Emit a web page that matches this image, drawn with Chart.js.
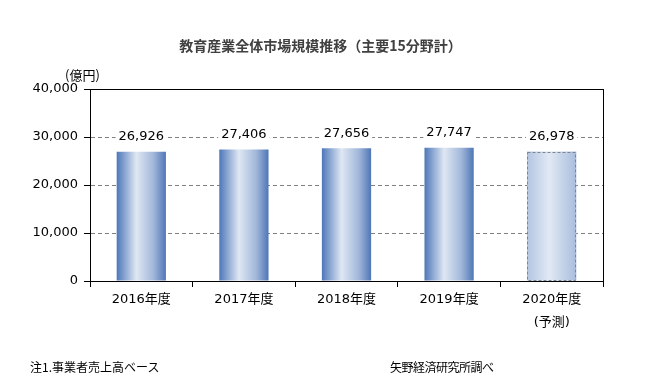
<!DOCTYPE html>
<html><head><meta charset="utf-8">
<script src="https://cdn.jsdelivr.net/npm/chart.js@4/dist/chart.umd.min.js"></script>
<style>
html,body{margin:0;padding:0;background:#fff;}
#wrap{position:relative;width:667px;height:381px;overflow:hidden;font-family:"DejaVu Sans","Noto Sans CJK JP",sans-serif;}
canvas{position:absolute;left:0;top:0;}
.t{position:absolute;white-space:nowrap;}
</style></head><body>
<div id="wrap">
<canvas id="c" width="667" height="381"></canvas>
<div class="t" id="title" style="left:0;width:641px;text-align:center;top:35px;font-size:14px;font-weight:bold;color:#404040;font-family:'Noto Sans CJK JP',sans-serif;">教育産業全体市場規模推移（主要15分野計）</div>
<div class="t" style="left:65px;top:65px;font-size:13px;color:#000;font-family:'Noto Sans CJK JP',sans-serif;">(億円)</div>
<div class="t" style="left:30px;top:358px;font-size:12px;color:#000;font-family:'Noto Sans CJK JP',sans-serif;">注1.事業者売上高ベース</div>
<div class="t" style="left:390px;top:358px;font-size:12px;color:#000;font-family:'Noto Sans CJK JP',sans-serif;letter-spacing:-0.5px;">矢野経済研究所調べ</div>
</div>
<script>
const categories = [["2016年度"], ["2017年度"], ["2018年度"], ["2019年度"], ["2020年度", "(予測)"]];
const marketSize = [26926, 27406, 27656, 27747, 26978];
const forecastIndex = [4];
const yTicks = [0, 10000, 20000, 30000, 40000];

const fmt = v => v.toLocaleString('en-US');

function barGradient(ctx) {
  const chart = ctx.chart;
  const xs = chart.scales.x;
  if (!xs || !chart.chartArea) return '#6f90c8';
  const i = ctx.dataIndex;
  const cx = xs.getPixelForValue(i);
  const w = (xs.width / categories.length) * 0.48;
  const g = chart.ctx.createLinearGradient(cx - w / 2, 0, cx + w / 2, 0);
  if (forecastIndex.includes(i)) {
    g.addColorStop(0, '#b3c5e1');
    g.addColorStop(0.45, '#e1e9f4');
    g.addColorStop(1, '#a8bddd');
  } else {
    g.addColorStop(0, '#4d77b9');
    g.addColorStop(0.4, '#dfe7f3');
    g.addColorStop(0.75, '#a1b7d9');
    g.addColorStop(1, '#4f76b7');
  }
  return g;
}

const overlay = {
  id: 'overlay',
  afterDatasetsDraw(chart) {
    const c = chart.ctx, a = chart.chartArea;
    const meta = chart.getDatasetMeta(0);
    c.save();
    forecastIndex.forEach(i => {
      const el = meta.data[i];
      const w = el.width;
      c.setLineDash([3, 2]);
      c.strokeStyle = '#7a8696';
      c.lineWidth = 1;
      c.strokeRect(Math.round(el.x - w / 2) + 0.5, Math.round(el.y) + 0.5, Math.round(w) - 1, Math.round(el.base - el.y) - 1);
    });
    c.setLineDash([]);
    c.strokeStyle = '#000';
    c.lineWidth = 1;
    c.strokeRect(Math.round(a.left) + 0.5, Math.round(a.top) + 0.5, Math.round(a.right - a.left), Math.round(a.bottom - a.top));
    c.font = '13px "DejaVu Sans", sans-serif';
    c.textAlign = 'center';
    c.textBaseline = 'middle';
    meta.data.forEach((el, i) => {
      const txt = fmt(marketSize[i]);
      const y = el.y - 15;
      const tw = c.measureText(txt).width;
      c.fillStyle = '#fff';
      c.fillRect(el.x - tw / 2 - 3, y - 8, tw + 6, 16);
      c.fillStyle = '#000';
      c.fillText(txt, el.x, y);
    });
    c.restore();
  }
};

new Chart(document.getElementById('c'), {
  type: 'bar',
  data: {
    labels: categories,
    datasets: [{
      data: marketSize,
      backgroundColor: barGradient,
      borderWidth: 0,
      barPercentage: 0.48,
      categoryPercentage: 1
    }]
  },
  options: {
    responsive: false,
    animation: false,
    events: [],
    layout: { padding: { top: 89, right: 64, left: 0, bottom: 0 } },
    plugins: { legend: { display: false }, tooltip: { enabled: false }, title: { display: false } },
    scales: {
      x: {
        afterFit: s => { s.height = 100; },
        border: { color: '#000', width: 1 },
        grid: { offset: true, drawOnChartArea: false, drawTicks: true, tickLength: 6, tickColor: '#000' },
        ticks: { color: '#000', padding: 1, font: { size: 13, family: '"DejaVu Sans","Noto Sans CJK JP",sans-serif', lineHeight: 1.75 } }
      },
      y: {
        min: 0, max: 40000,
        afterFit: s => { s.width = 90; },
        afterBuildTicks: s => { s.ticks = yTicks.map(v => ({ value: v })); },
        border: { color: '#000', width: 1, dash: [4, 3] },
        grid: {
          color: ctx => (ctx.tick && (ctx.tick.value === 0 || ctx.tick.value === 40000)) ? 'rgba(0,0,0,0)' : '#808080',
          borderDash: [4, 3],
          tickBorderDash: [],
          tickColor: '#000',
          tickLength: 6,
          lineWidth: 1
        },
        ticks: { color: '#000', padding: 6, font: { size: 13, family: '"DejaVu Sans",sans-serif' }, callback: v => fmt(v) }
      }
    }
  },
  plugins: [overlay]
});
</script>
</body></html>
